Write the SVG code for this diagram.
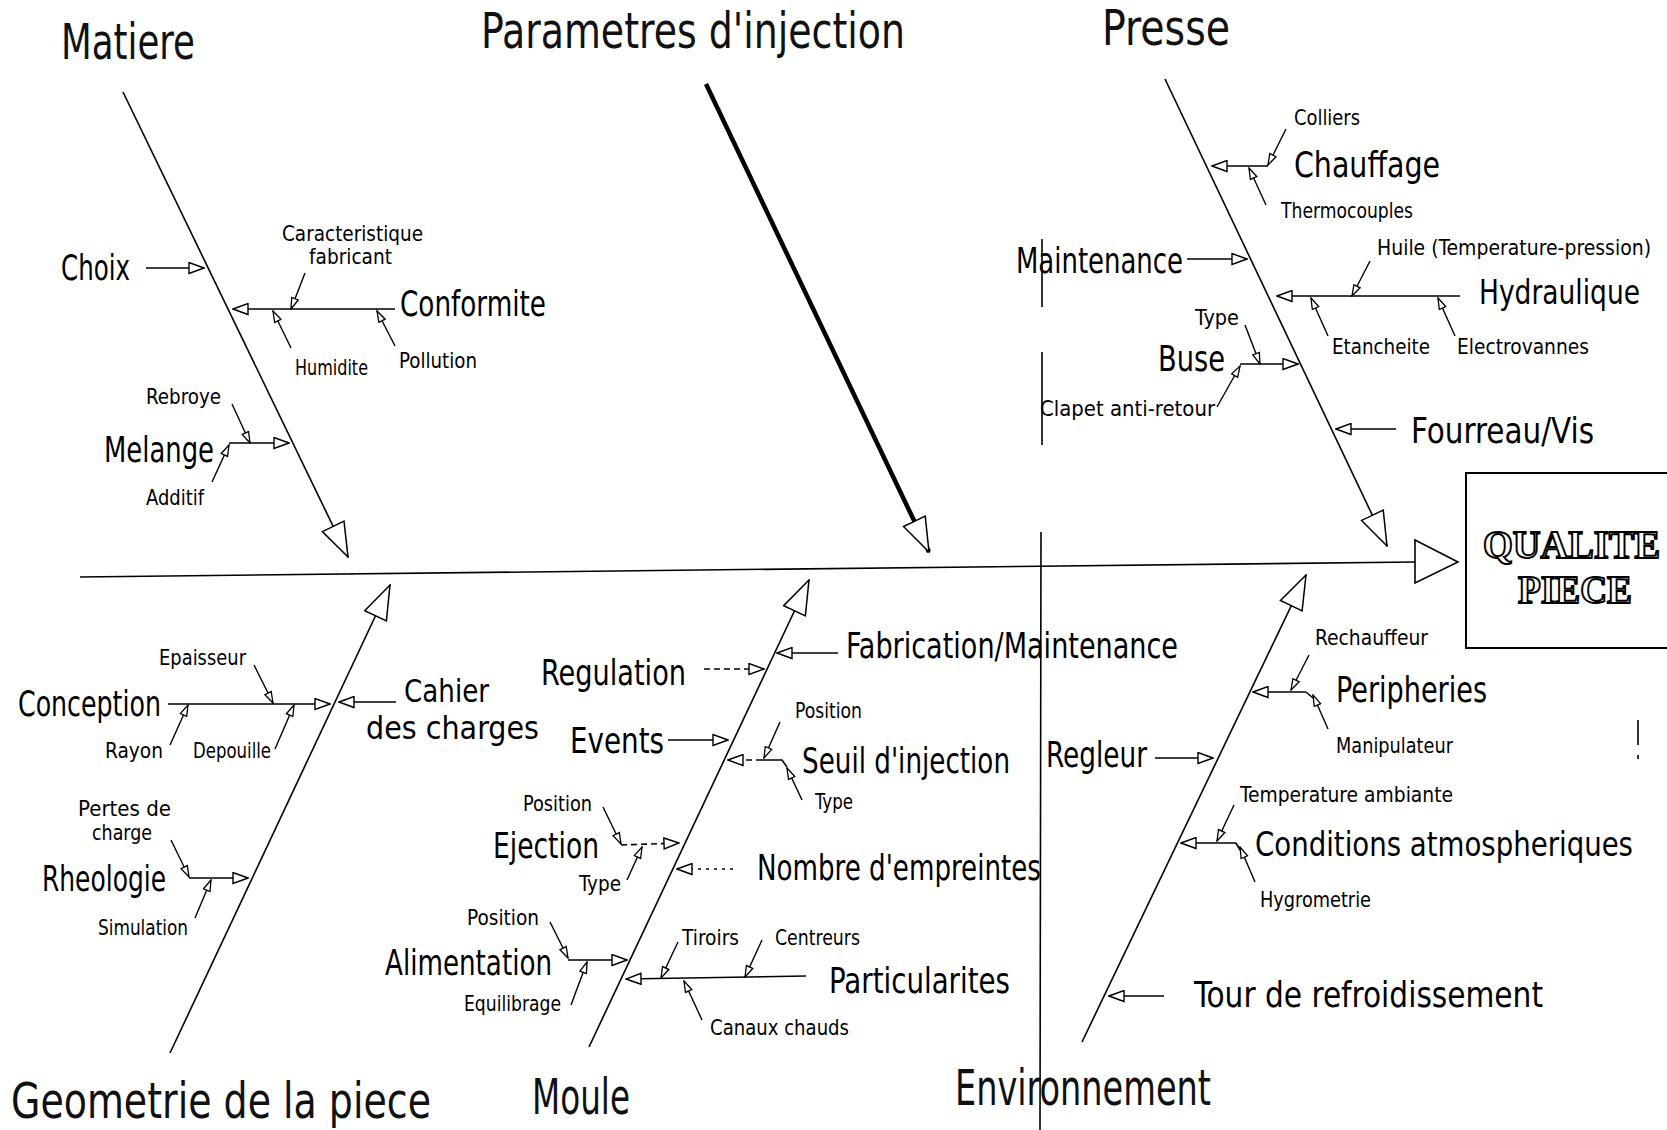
<svg xmlns="http://www.w3.org/2000/svg" width="1667" height="1130" viewBox="0 0 1667 1130">
<style>
.c{fill:none;stroke:#000;stroke-width:1.6}
.th{stroke-width:4.5}
.d{stroke-dasharray:6 4}
.dt{stroke-dasharray:3 5}
.f{stroke-width:1.4}
text{font-family:"Liberation Sans Narrow","DejaVu Sans Condensed","Liberation Sans",sans-serif;fill:#000}
.cat{font-size:50px;fill:#111}
.sub{font-size:36px}
.sub2{font-size:32px}
.sub3{font-size:33px}
.sm{font-size:22px}
.q{font-family:"Liberation Serif",serif;font-weight:bold;font-size:40px;fill:#fff;stroke:#000;stroke-width:2}
</style>
<defs>
<marker id="mb" viewBox="0 0 36 26" refX="35" refY="13" markerWidth="36" markerHeight="26" markerUnits="userSpaceOnUse" orient="auto"><path d="M1,1 L35,13 L1,25 z" fill="#fff" stroke="#000" stroke-width="1.5"/></marker>
<marker id="ms" viewBox="0 0 17 13" refX="16" refY="6.5" markerWidth="17" markerHeight="13" markerUnits="userSpaceOnUse" orient="auto"><path d="M1,1 L16,6.5 L1,12 z" fill="#fff" stroke="#000" stroke-width="1.4"/></marker>
<marker id="mt" viewBox="0 0 13 9" refX="12" refY="4.5" markerWidth="13" markerHeight="9" markerUnits="userSpaceOnUse" orient="auto"><path d="M1,1 L12,4.5 L1,8 z" fill="#fff" stroke="#000" stroke-width="1.3"/></marker>
</defs>
<rect width="1667" height="1130" fill="#fff"/>

<g id="connectors">
  <path class="c" d="M80,577 L1415,562" stroke-width="2.2"/>
  <polygon points="1415,540 1458,562 1415,583" fill="#fff" stroke="#000" stroke-width="1.6"/>
  <path class="c" d="M123,92 L348,557" marker-end="url(#mb)"/>
  <path class="c th" d="M706,84 L929,552" marker-end="url(#mb)"/>
  <path class="c" d="M1165,79 L1387,546" marker-end="url(#mb)"/>
  <path class="c" d="M170,1053 L390,585" marker-end="url(#mb)"/>
  <path class="c" d="M589,1047 L809,580" marker-end="url(#mb)"/>
  <path class="c" d="M1082,1042 L1306,575" marker-end="url(#mb)"/>
  <path class="c" d="M146,268 L204,268" marker-end="url(#ms)"/>
  <path class="c" d="M395,309 L233,309" marker-end="url(#ms)"/>
  <path class="c" d="M229,443 L289,443" marker-end="url(#ms)"/>
  <path class="c" d="M1268,166 L1212,166" marker-end="url(#ms)"/>
  <path class="c" d="M1187,259 L1247,259" marker-end="url(#ms)"/>
  <path class="c" d="M1460,296 L1277,296" marker-end="url(#ms)"/>
  <path class="c" d="M1240,364 L1298,364" marker-end="url(#ms)"/>
  <path class="c" d="M1396,429 L1336,429" marker-end="url(#ms)"/>
  <path class="c" d="M168,704 L330,704" marker-end="url(#ms)"/>
  <path class="c" d="M396,702 L339,702" marker-end="url(#ms)"/>
  <path class="c" d="M189,878 L248,878" marker-end="url(#ms)"/>
  <path class="c d" d="M704,669 L764,669" marker-end="url(#ms)"/>
  <path class="c" d="M838,653 L777,653" marker-end="url(#ms)"/>
  <path class="c" d="M668,740 L728,740" marker-end="url(#ms)"/>
  <path class="c d" d="M762,760 L728,760" marker-end="url(#ms)"/>
  <path class="c" d="M762,760 L782,760 L787,767"/>
  <path class="c d" d="M621,845 L679,843" marker-end="url(#ms)"/>
  <path class="c dt" d="M733,869 L677,869" marker-end="url(#ms)"/>
  <path class="c" d="M568,960 L627,960" marker-end="url(#ms)"/>
  <path class="c" d="M806,976 L626,979" marker-end="url(#ms)"/>
  <path class="c" d="M1306,692 L1253,692" marker-end="url(#ms)"/>
  <path class="c" d="M1306,692 L1313,698"/>
  <path class="c" d="M1155,758 L1213,758" marker-end="url(#ms)"/>
  <path class="c" d="M1236,843 L1181,843" marker-end="url(#ms)"/>
  <path class="c" d="M1236,843 L1240,850"/>
  <path class="c" d="M1164,996 L1109,996" marker-end="url(#ms)"/>
  <path class="c f" d="M305,273 L291,309" marker-end="url(#mt)"/>
  <path class="c f" d="M291,348 L273,311" marker-end="url(#mt)"/>
  <path class="c f" d="M395,346 L377,311" marker-end="url(#mt)"/>
  <path class="c f" d="M232,404 L250,443" marker-end="url(#mt)"/>
  <path class="c f" d="M212,482 L229,445" marker-end="url(#mt)"/>
  <path class="c f" d="M1286,129 L1268,165" marker-end="url(#mt)"/>
  <path class="c f" d="M1266,205 L1249,168" marker-end="url(#mt)"/>
  <path class="c f" d="M1370,261 L1352,296" marker-end="url(#mt)"/>
  <path class="c f" d="M1328,336 L1311,298" marker-end="url(#mt)"/>
  <path class="c f" d="M1455,336 L1438,298" marker-end="url(#mt)"/>
  <path class="c f" d="M1245,325 L1260,364" marker-end="url(#mt)"/>
  <path class="c f" d="M1217,407 L1240,366" marker-end="url(#mt)"/>
  <path class="c f" d="M254,665 L273,703" marker-end="url(#mt)"/>
  <path class="c f" d="M170,745 L188,705" marker-end="url(#mt)"/>
  <path class="c f" d="M275,749 L294,705" marker-end="url(#mt)"/>
  <path class="c f" d="M171,840 L189,877" marker-end="url(#mt)"/>
  <path class="c f" d="M195,918 L211,880" marker-end="url(#mt)"/>
  <path class="c f" d="M780,722 L764,758" marker-end="url(#mt)"/>
  <path class="c f" d="M802,800 L787,768" marker-end="url(#mt)"/>
  <path class="c f" d="M603,807 L621,844" marker-end="url(#mt)"/>
  <path class="c f" d="M627,880 L642,847" marker-end="url(#mt)"/>
  <path class="c f" d="M550,922 L568,958" marker-end="url(#mt)"/>
  <path class="c f" d="M571,1005 L587,962" marker-end="url(#mt)"/>
  <path class="c f" d="M678,942 L661,978" marker-end="url(#mt)"/>
  <path class="c f" d="M762,940 L745,977" marker-end="url(#mt)"/>
  <path class="c f" d="M702,1020 L684,981" marker-end="url(#mt)"/>
  <path class="c f" d="M1309,655 L1291,690" marker-end="url(#mt)"/>
  <path class="c f" d="M1328,729 L1313,695" marker-end="url(#mt)"/>
  <path class="c f" d="M1234,805 L1217,841" marker-end="url(#mt)"/>
  <path class="c f" d="M1255,882 L1240,847" marker-end="url(#mt)"/>
</g>

<g id="fold-line">
  <path class="c" stroke-width="1.3" d="M1042,239 L1042,307 M1042,352 L1042,445 M1041,532 L1040,1130 M1638,720 L1638,745 M1638,755 L1638,759"/>
</g>

<g id="effect">
  <rect x="1466" y="473" width="210" height="175" fill="none" stroke="#000" stroke-width="2"/>
  <text class="q" x="1483" y="558" textLength="177" lengthAdjust="spacingAndGlyphs">QUALITE</text>
  <text class="q" x="1518" y="603" textLength="114" lengthAdjust="spacingAndGlyphs">PIECE</text>
</g>

<g id="cat-matiere"><text class="cat" x="61" y="59" textLength="134" lengthAdjust="spacingAndGlyphs">Matiere</text></g>
<g id="cat-parametres"><text class="cat" x="481" y="48" textLength="424" lengthAdjust="spacingAndGlyphs">Parametres d'injection</text></g>
<g id="cat-presse"><text class="cat" x="1102" y="45" textLength="128" lengthAdjust="spacingAndGlyphs">Presse</text></g>
<g id="cat-geometrie"><text class="cat" x="11" y="1118" textLength="420" lengthAdjust="spacingAndGlyphs">Geometrie de la piece</text></g>
<g id="cat-moule"><text class="cat" x="532" y="1114" textLength="98" lengthAdjust="spacingAndGlyphs">Moule</text></g>
<g id="cat-environnement"><text class="cat" x="955" y="1105" textLength="256" lengthAdjust="spacingAndGlyphs">Environnement</text></g>

<g id="choix"><text class="sub" x="61" y="280" textLength="69" lengthAdjust="spacingAndGlyphs">Choix</text></g>
<g id="conformite">
  <text class="sub" x="400" y="316" textLength="146" lengthAdjust="spacingAndGlyphs">Conformite</text>
  <text class="sm" x="282" y="241" textLength="141" lengthAdjust="spacingAndGlyphs">Caracteristique</text>
  <text class="sm" x="309" y="264" textLength="83" lengthAdjust="spacingAndGlyphs">fabricant</text>
  <text class="sm" x="295" y="375" textLength="73" lengthAdjust="spacingAndGlyphs">Humidite</text>
  <text class="sm" x="399" y="368" textLength="78" lengthAdjust="spacingAndGlyphs">Pollution</text>
</g>
<g id="melange">
  <text class="sub" x="104" y="462" textLength="110" lengthAdjust="spacingAndGlyphs">Melange</text>
  <text class="sm" x="146" y="404" textLength="75" lengthAdjust="spacingAndGlyphs">Rebroye</text>
  <text class="sm" x="146" y="505" textLength="58" lengthAdjust="spacingAndGlyphs">Additif</text>
</g>

<g id="chauffage">
  <text class="sub" x="1294" y="177" textLength="146" lengthAdjust="spacingAndGlyphs">Chauffage</text>
  <text class="sm" x="1294" y="125" textLength="66" lengthAdjust="spacingAndGlyphs">Colliers</text>
  <text class="sm" x="1281" y="218" textLength="132" lengthAdjust="spacingAndGlyphs">Thermocouples</text>
</g>
<g id="maintenance"><text class="sub" x="1016" y="273" textLength="167" lengthAdjust="spacingAndGlyphs">Maintenance</text></g>
<g id="hydraulique">
  <text class="sub3" x="1479" y="304" textLength="161" lengthAdjust="spacingAndGlyphs">Hydraulique</text>
  <text class="sm" x="1377" y="255" textLength="274" lengthAdjust="spacingAndGlyphs">Huile (Temperature-pression)</text>
  <text class="sm" x="1332" y="354" textLength="98" lengthAdjust="spacingAndGlyphs">Etancheite</text>
  <text class="sm" x="1457" y="354" textLength="132" lengthAdjust="spacingAndGlyphs">Electrovannes</text>
</g>
<g id="buse">
  <text class="sub" x="1158" y="371" textLength="67" lengthAdjust="spacingAndGlyphs">Buse</text>
  <text class="sm" x="1195" y="325" textLength="44" lengthAdjust="spacingAndGlyphs">Type</text>
  <text class="sm" x="1040" y="416" textLength="175" lengthAdjust="spacingAndGlyphs">Clapet anti-retour</text>
</g>
<g id="fourreau"><text class="sub" x="1411" y="443" textLength="183" lengthAdjust="spacingAndGlyphs">Fourreau/Vis</text></g>

<g id="conception">
  <text class="sub" x="18" y="716" textLength="143" lengthAdjust="spacingAndGlyphs">Conception</text>
  <text class="sm" x="159" y="665" textLength="87" lengthAdjust="spacingAndGlyphs">Epaisseur</text>
  <text class="sm" x="105" y="758" textLength="58" lengthAdjust="spacingAndGlyphs">Rayon</text>
  <text class="sm" x="193" y="758" textLength="78" lengthAdjust="spacingAndGlyphs">Depouille</text>
</g>
<g id="cahier">
  <text class="sub2" x="404" y="702" textLength="85" lengthAdjust="spacingAndGlyphs">Cahier</text>
  <text class="sub2" x="366" y="739" textLength="173" lengthAdjust="spacingAndGlyphs">des charges</text>
</g>
<g id="rheologie">
  <text class="sub" x="42" y="891" textLength="124" lengthAdjust="spacingAndGlyphs">Rheologie</text>
  <text class="sm" x="78" y="816" textLength="93" lengthAdjust="spacingAndGlyphs">Pertes de</text>
  <text class="sm" x="92" y="840" textLength="60" lengthAdjust="spacingAndGlyphs">charge</text>
  <text class="sm" x="98" y="935" textLength="90" lengthAdjust="spacingAndGlyphs">Simulation</text>
</g>

<g id="regulation"><text class="sub" x="541" y="685" textLength="145" lengthAdjust="spacingAndGlyphs">Regulation</text></g>
<g id="fabrication"><text class="sub" x="846" y="658" textLength="332" lengthAdjust="spacingAndGlyphs">Fabrication/Maintenance</text></g>
<g id="events"><text class="sub" x="570" y="753" textLength="94" lengthAdjust="spacingAndGlyphs">Events</text></g>
<g id="seuil">
  <text class="sub" x="802" y="773" textLength="208" lengthAdjust="spacingAndGlyphs">Seuil d'injection</text>
  <text class="sm" x="795" y="718" textLength="67" lengthAdjust="spacingAndGlyphs">Position</text>
  <text class="sm" x="815" y="809" textLength="38" lengthAdjust="spacingAndGlyphs">Type</text>
</g>
<g id="ejection">
  <text class="sub" x="493" y="858" textLength="106" lengthAdjust="spacingAndGlyphs">Ejection</text>
  <text class="sm" x="523" y="811" textLength="69" lengthAdjust="spacingAndGlyphs">Position</text>
  <text class="sm" x="579" y="891" textLength="42" lengthAdjust="spacingAndGlyphs">Type</text>
</g>
<g id="nombre"><text class="sub" x="757" y="880" textLength="284" lengthAdjust="spacingAndGlyphs">Nombre d'empreintes</text></g>
<g id="alimentation">
  <text class="sub" x="385" y="975" textLength="167" lengthAdjust="spacingAndGlyphs">Alimentation</text>
  <text class="sm" x="467" y="925" textLength="72" lengthAdjust="spacingAndGlyphs">Position</text>
  <text class="sm" x="464" y="1011" textLength="97" lengthAdjust="spacingAndGlyphs">Equilibrage</text>
</g>
<g id="particularites">
  <text class="sub" x="829" y="993" textLength="181" lengthAdjust="spacingAndGlyphs">Particularites</text>
  <text class="sm" x="682" y="945" textLength="57" lengthAdjust="spacingAndGlyphs">Tiroirs</text>
  <text class="sm" x="775" y="945" textLength="85" lengthAdjust="spacingAndGlyphs">Centreurs</text>
  <text class="sm" x="710" y="1035" textLength="139" lengthAdjust="spacingAndGlyphs">Canaux chauds</text>
</g>

<g id="peripheries">
  <text class="sub" x="1336" y="702" textLength="151" lengthAdjust="spacingAndGlyphs">Peripheries</text>
  <text class="sm" x="1315" y="645" textLength="113" lengthAdjust="spacingAndGlyphs">Rechauffeur</text>
  <text class="sm" x="1336" y="753" textLength="117" lengthAdjust="spacingAndGlyphs">Manipulateur</text>
</g>
<g id="regleur"><text class="sub" x="1046" y="767" textLength="101" lengthAdjust="spacingAndGlyphs">Regleur</text></g>
<g id="conditions">
  <text class="sub3" x="1255" y="856" textLength="378" lengthAdjust="spacingAndGlyphs">Conditions atmospheriques</text>
  <text class="sm" x="1240" y="802" textLength="213" lengthAdjust="spacingAndGlyphs">Temperature ambiante</text>
  <text class="sm" x="1260" y="907" textLength="111" lengthAdjust="spacingAndGlyphs">Hygrometrie</text>
</g>
<g id="tour"><text class="sub" x="1194" y="1007" textLength="349" lengthAdjust="spacingAndGlyphs">Tour de refroidissement</text></g>
</svg>
